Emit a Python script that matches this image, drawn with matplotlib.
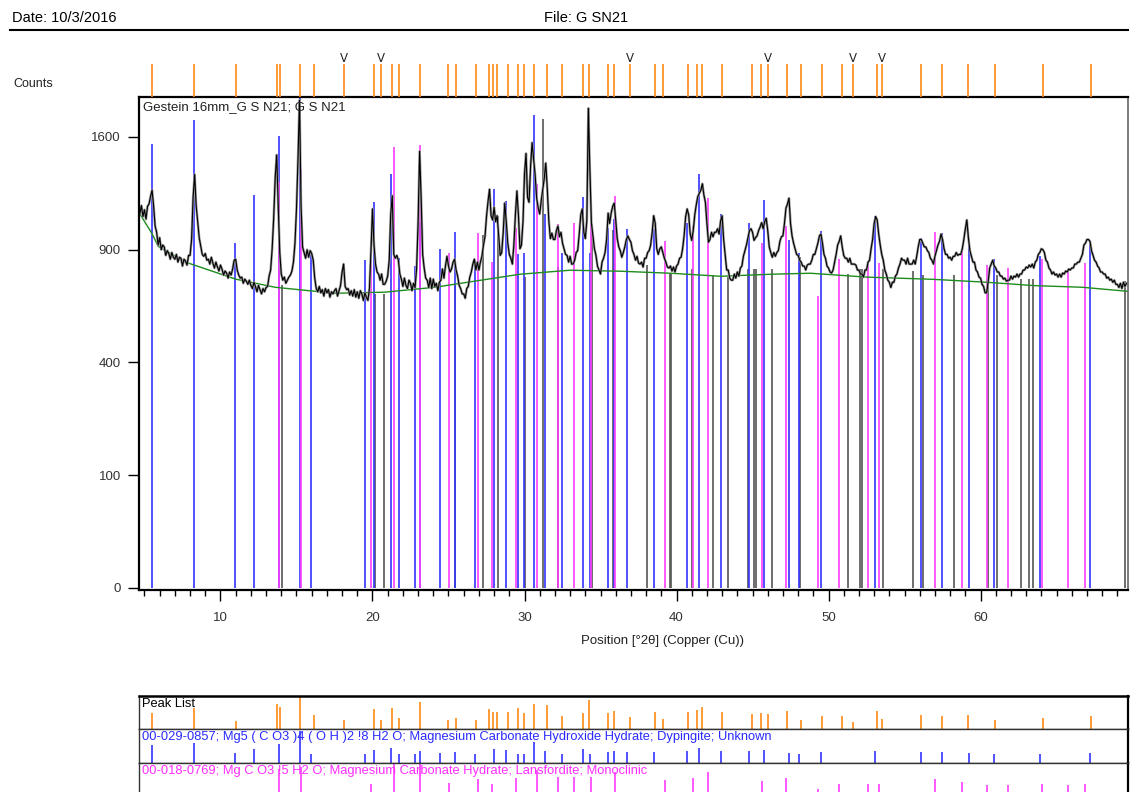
import numpy as np
import matplotlib
matplotlib.use("Agg")
import matplotlib.pyplot as plt
from matplotlib.lines import Line2D

plt.rcParams['font.family'] = ['Liberation Sans', 'DejaVu Sans']

# measured scan, counts every 0.1 deg starting at 4.7 deg 2theta
SCAN_START = 4.7
SCAN_STEP = 0.1
counts = [
    1105, 1150, 1085,
    1125, 1070, 1145, 1160, 1205, 1245, 1150, 1030, 995, 925,
    965, 900, 925, 915, 870, 895, 880, 850, 885, 860,
    850, 875, 835, 860, 855, 815, 850, 840, 820, 870,
    870, 955, 1200, 1345, 1150, 1055, 965, 920, 875, 865,
    880, 845, 850, 825, 860, 830, 805, 835, 810, 790,
    820, 800, 770, 790, 780, 755, 785, 770, 800, 845,
    850, 795, 770, 755, 760, 730, 750, 740, 725, 745,
    720, 705, 735, 715, 690, 720, 700, 680, 705, 690,
    710, 715, 765, 795, 905, 1075, 1325, 1475, 1145, 885,
    775, 745, 760, 730, 745, 760, 770, 790, 835, 935,
    1130, 1450, 1870, 1150, 915, 885, 855, 900, 860, 895,
    880, 845, 755, 705, 690, 715, 685, 700, 670, 705,
    685, 700, 665, 690, 680, 695, 705, 670, 695, 720,
    785, 825, 715, 700, 705, 675, 695, 670, 700, 665,
    690, 660, 695, 680, 650, 685, 665, 650, 705, 895,
    1130, 925, 825, 785, 775, 745, 775, 725, 725, 740,
    765, 845, 1100, 1210, 875, 855, 870, 845, 775, 750,
    715, 755, 720, 705, 745, 730, 695, 730, 710, 800,
    1050, 1500, 1200, 875, 805, 755, 745, 710, 755, 705,
    750, 715, 730, 695, 735, 745, 800, 755, 815, 865,
    815, 785, 800, 835, 850, 795, 765, 720, 705, 680,
    680, 660, 705, 715, 760, 785, 825, 850, 795, 835,
    795, 835, 865, 925, 970, 1085, 1175, 1250, 1090, 1065,
    1140, 1055, 1090, 975, 870, 885, 995, 1165, 1055, 935,
    875, 855, 825, 925, 1095, 1240, 1095, 905, 925, 1055,
    1350, 1485, 1200, 1170, 1400, 1560, 1445, 1340, 1195, 1135,
    1100, 1180, 1250, 1320, 1420, 1250, 1060, 960, 990, 955,
    955, 1005, 1030, 970, 995, 935, 905, 875, 870, 835,
    865, 825, 825, 845, 885, 895, 985, 1095, 1130, 995,
    960, 1060, 1810, 1380, 1050, 975, 905, 870, 815, 795,
    775, 835, 855, 885, 955, 1105, 1045, 1105, 1145, 1165,
    1065, 960, 915, 895, 860, 885, 915, 955, 975, 955,
    940, 895, 875, 845, 865, 830, 825, 835, 810, 855,
    855, 885, 895, 925, 995, 1090, 1045, 905, 875, 905,
    915, 885, 855, 835, 810, 805, 815, 790, 810, 785,
    815, 825, 855, 860, 905, 975, 1085, 1130, 1095, 985,
    950, 1005, 1095, 1155, 1205, 1225, 1245, 1285, 1215, 1170,
    1045, 940, 955, 995, 970, 995, 995, 1015, 985, 1060,
    1090, 955, 875, 795, 795, 755, 745, 745, 775, 755,
    785, 765, 805, 815, 865, 895, 925, 965, 1005, 1015,
    995, 950, 965, 975, 1005, 1025, 1050, 1015, 1055, 1075,
    1005, 915, 885, 860, 885, 865, 885, 895, 945, 970,
    975, 1045, 1135, 1160, 1195, 1045, 975, 935, 905, 875,
    870, 845, 835, 815, 815, 795, 820, 825, 825, 845,
    875, 875, 905, 935, 975, 985, 935, 875, 855, 815,
    805, 785, 780, 795, 835, 875, 925, 945, 975, 915,
    870, 855, 855, 835, 855, 825, 825, 825, 820, 795,
    795, 775, 775, 760, 795, 795, 835, 845, 905, 955,
    1045, 1085, 1065, 985, 925, 875, 845, 795, 775, 745,
    735, 710, 735, 735, 765, 775, 805, 825, 855, 845,
    845, 825, 855, 825, 825, 825, 845, 825, 865, 915,
    955, 955, 935, 915, 915, 895, 885, 855, 845, 825,
    865, 895, 925, 945, 985, 955, 905, 875, 875, 855,
    860, 845, 865, 865, 885, 870, 875, 875, 905, 955,
    1015, 1065, 965, 895, 865, 835, 835, 795, 785, 760,
    755, 725, 715, 685, 685, 735, 805, 825, 845, 815,
    805, 785, 785, 765, 765, 750, 755, 740, 745, 745,
    765, 750, 765, 760, 775, 760, 775, 775, 795, 795,
    810, 805, 820, 810, 825, 805, 835, 845, 875, 885,
    905, 900, 885, 845, 835, 805, 795, 775, 785, 770,
    775, 760, 775, 760, 780, 775, 790, 785, 800, 795,
    805, 805, 825, 825, 835, 835, 855, 875, 925, 935,
    955, 955, 945, 895, 870, 845, 835, 815, 805, 785,
    785, 775, 775, 755, 760, 745, 750, 735, 745, 725,
    725, 710, 730, 705, 735, 715, 730,
]

# fitted background
bg_pos = [4.7, 5.5, 5.9, 7.7, 11.0, 13.6, 17.5, 20.8, 24.1, 26.7, 29.7, 33.0,
          36.3, 39.6, 42.9, 46.2, 48.8, 52.5, 56.9, 60.4, 63.5, 66.7, 69.7]
bg_counts = [1100, 987, 918, 835, 750, 711, 683, 688, 711, 740, 774, 794,
             789, 779, 764, 774, 779, 760, 749, 735, 719, 711, 692]

# peak list
peak_pos = [5.49, 8.27, 10.99, 13.72, 13.94, 15.20, 16.12, 18.13, 20.11, 20.54,
            21.26, 21.74, 23.15, 24.97, 25.47, 26.78, 27.64, 27.93, 28.22, 28.94,
            29.54, 29.97, 30.64, 31.45, 32.45, 33.87, 34.25, 35.47, 35.91, 36.96,
            38.61, 39.14, 40.74, 41.37, 41.68, 43.02, 44.96, 45.59, 46.01, 47.28,
            48.17, 49.56, 50.90, 51.60, 53.16, 53.51, 56.05, 57.49, 59.19, 60.97,
            64.11, 67.24]
peak_rel = [49, 63, 24, 77, 66, 100, 44, 29, 61, 29,
            64, 35, 82, 29, 35, 27, 61, 53, 53, 53,
            64, 50, 77, 73, 41, 50, 88, 50, 55, 38,
            52, 32, 52, 59, 66, 52, 46, 49, 46, 55,
            29, 41, 41, 21, 55, 32, 44, 41, 44, 29,
            35, 41]
marked_peaks = [18.13, 20.54, 36.96, 46.01, 51.60, 53.51]

# 00-029-0857 Dypingite
dyp_pos = [5.49, 8.28, 10.97, 12.18, 13.87, 15.21, 15.93, 19.49, 20.08, 21.22,
           21.72, 22.80, 23.11, 24.44, 25.45, 26.76, 28.01, 28.76, 29.59, 29.99,
           30.63, 31.37, 32.49, 33.83, 34.29, 35.47, 35.87, 36.76, 38.54, 40.69,
           41.50, 42.95, 44.77, 45.78, 47.42, 48.06, 49.49, 53.08, 56.07, 57.49,
           59.24, 60.89, 63.89, 67.18]
dyp_counts = [1552, 1723, 937, 1214, 1607, 2700, 880, 845, 1171, 1348,
              855, 814, 1050, 903, 996, 840, 1252, 1177, 876, 880,
              1760, 1100, 880, 1202, 880, 1018, 1070, 1013, 1013, 1047,
              1348, 1100, 1047, 1183, 950, 880, 1000, 1088, 962, 990,
              957, 850, 866, 935]

# 00-018-0769 Lansfordite
lans_pos = [13.83, 15.32, 19.92, 21.39, 23.11, 25.05, 26.92, 27.88, 29.42, 30.84,
            32.22, 33.28, 34.39, 35.95, 39.24, 41.07, 42.05, 45.61, 47.18, 49.29,
            50.69, 52.58, 53.32, 56.99, 58.80, 60.45, 61.83, 64.05, 65.74, 66.86]
lans_counts = [1296, 1374, 845, 1530, 1543, 880, 990, 835, 1018, 1283,
               1040, 1047, 1040, 1208, 946, 1030, 1196, 935, 1030, 670,
               850, 840, 830, 996, 908, 820, 805, 850, 800, 830]

# third reference pattern (grey)
other_pos = [14.05, 20.17, 20.77, 25.40, 27.27, 28.27, 30.03, 31.24, 32.18, 34.42,
             35.84, 38.05, 39.55, 39.63, 41.00, 42.43, 43.40, 44.72, 45.08, 45.23,
             46.26, 48.13, 51.30, 52.05, 52.20, 53.60, 55.57, 56.22, 58.28, 60.50,
             61.08, 62.65, 63.17, 63.45, 69.50]
other_counts = [720, 680, 680, 720, 980, 1090, 760, 1730, 810, 1040,
                1010, 820, 775, 775, 800, 770, 760, 800, 800, 800,
                800, 860, 775, 800, 800, 800, 790, 770, 770, 720,
                770, 750, 750, 750, 740]

W, H = 1131, 792
XMIN, XMAX = 4.64, 69.70
ORANGE = '#ff8a14'
BLUE = '#3434ff'
MAGENTA = '#ff3cff'


def box(left, top, right, bottom):
    # pixel rectangle -> figure fraction
    return [left / W, 1 - bottom / H, (right - left) / W, (bottom - top) / H]


def sqrt_fwd(y):
    y = np.asarray(y, dtype=float)
    return np.sign(y) * np.sqrt(np.abs(y))


def sqrt_inv(y):
    y = np.asarray(y, dtype=float)
    return np.sign(y) * y ** 2


def main():
    two_theta = SCAN_START + SCAN_STEP * np.arange(len(counts))

    fig = plt.figure(figsize=(W / 100, H / 100), dpi=100)
    fig.patch.set_facecolor('white')

    # header
    fig.text(12 / W, 1 - 18 / H, 'Date: 10/3/2016', fontsize=10.5, va='center')
    fig.text(544 / W, 1 - 18 / H, 'File: G SN21', fontsize=10.5, va='center')
    fig.add_artist(Line2D([10 / W, 1128 / W], [1 - 30 / H, 1 - 30 / H],
                          color='black', lw=1.5))
    fig.text(13 / W, 1 - 84 / H, 'Counts', fontsize=9, va='center', color='#222222')

    # main pattern
    ax = fig.add_axes(box(139, 97, 1128, 590))
    ax.set_yscale('function', functions=(sqrt_fwd, sqrt_inv))
    ax.vlines(other_pos, 0, other_counts, color='#555555', lw=1.2)
    ax.vlines(dyp_pos, 0, dyp_counts, color=BLUE, lw=1.2)
    ax.vlines(lans_pos, 0, lans_counts, color=MAGENTA, lw=1.2)
    ax.plot(bg_pos, bg_counts, color='#1e8c1e', lw=1.0)
    ax.plot(two_theta, counts, color='#9a9a9a', lw=1.8)
    ax.plot(two_theta, counts, color='black', lw=0.8)
    ax.set_xlim(XMIN, XMAX)
    ax.set_ylim(-0.035, 1896)
    ax.set_yticks([0, 100, 400, 900, 1600], ['0', '100', '400', '900', '1600'])
    ax.set_xticks(range(10, 61, 10))
    ax.set_xticks(range(5, 70), minor=True)
    ax.tick_params(axis='x', which='major', length=8, width=1, pad=8,
                   labelsize=9.5, labelcolor='#333333')
    ax.tick_params(axis='x', which='minor', length=4, width=1)
    ax.tick_params(axis='y', which='major', length=8, width=1, pad=5,
                   labelsize=9.5, labelcolor='#333333')
    ax.tick_params(axis='y', which='minor', length=0)
    for name, sp in ax.spines.items():
        sp.set_linewidth(1.6)
    ax.spines['right'].set_color('#666666')
    ax.spines['right'].set_linewidth(1.2)
    ax.text(0.004, 0.992, 'Gestein 16mm_G S N21; G S N21', transform=ax.transAxes,
            va='top', ha='left', fontsize=9.5, color='#222222')
    fig.text(581 / W, 1 - 641 / H, 'Position [°2θ] (Copper (Cu))', fontsize=9.5,
             va='center', color='#222222')

    # peak markers above the pattern
    sax = fig.add_axes(box(139, 64, 1128, 97))
    sax.vlines(peak_pos, 0, 1, color=ORANGE, lw=1.2)
    for p in marked_peaks:
        sax.text(p, 0.98, 'V', ha='center', va='bottom', fontsize=8.5,
                 family='DejaVu Sans', color='#222222')
    sax.set_xlim(XMIN, XMAX)
    sax.set_ylim(0, 1)
    sax.axis('off')

    # stick panels
    rows = [
        ((696, 729), peak_pos, peak_rel, ORANGE, (0, 101), 'Peak List', 'black'),
        ((729, 763), dyp_pos, dyp_counts, BLUE, (126, 2830),
         '00-029-0857; Mg5 ( C O3 )4 ( O H )2 !8 H2 O; Magnesium Carbonate '
         'Hydroxide Hydrate; Dypingite; Unknown', '#2a2aff'),
        ((763, 797), lans_pos, lans_counts, MAGENTA, (436, 1486),
         '00-018-0769; Mg C O3 !5 H2 O; Magnesium Carbonate Hydrate; '
         'Lansfordite; Monoclinic', '#ff2cff'),
    ]
    for i, ((top, bottom), pos, vals, col, ylim, label, tcol) in enumerate(rows):
        rax = fig.add_axes(box(139, top, 1128, bottom))
        rax.vlines(pos, ylim[0], vals, color=col, lw=1.2)
        rax.set_xlim(XMIN, XMAX)
        rax.set_ylim(*ylim)
        rax.set_xticks([])
        rax.set_yticks([])
        for name, sp in rax.spines.items():
            sp.set_linewidth(1.0)
            sp.set_color('#333333')
        if i == 0:
            rax.spines['top'].set_linewidth(1.8)
            rax.spines['top'].set_color('black')
        rax.spines['right'].set_linewidth(1.6)
        rax.spines['right'].set_color('black')
        rax.text(0.003, 0.93, label, transform=rax.transAxes, va='top', ha='left',
                 fontsize=9.3, color=tcol)

    fig.savefig('out.png', dpi=100)


if __name__ == "__main__":
    main()
